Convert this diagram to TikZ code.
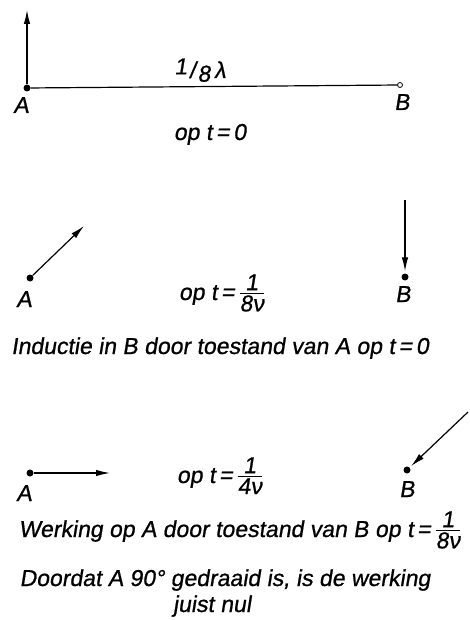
\documentclass[tikz,border=0pt]{standalone}
\usepackage{fontspec}
\usepackage{amsmath}
\usepackage{tikz}
\usetikzlibrary{arrows.meta}
\newfontfamily\lettering{Liberation Sans}[FakeSlant=0.16,FakeBold=0.8]
\newcommand{\frc}[2]{$\frac{\mbox{#1}}{\mbox{#2}}$}

\begin{document}
\begin{tikzpicture}[
  x=1pt, y=-1pt,
  font=\lettering\fontsize{23}{27}\selectfont,
  dot/.style={circle, fill, inner sep=0pt, minimum size=7pt},
  hole/.style={circle, draw, inner sep=0pt, minimum size=5pt, line width=0.8pt},
  vec/.style={-{Latex[length=14pt,width=6.5pt]}, line width=1.2pt},
  txt/.style={inner sep=0pt, anchor=base}
]
  \useasboundingbox (0,0) rectangle (470,620);
  % Stand op t=0
  \node[dot]  (a0) at (27,88) {};
  \node[hole] (b0) at (400,85) {};
  \coordinate (a0up) at (27,10);
  \draw[vec] (a0) -- (a0up);
  \draw[line width=1.2pt] (a0) -- (b0);
  \node[txt] (la0) at (21,113) {A};
  \node[txt] (lb0) at (402,110) {B};
  \node[txt] (dist) at (200,78) {\raisebox{0.3ex}{1}\kern2pt/\kern2pt\raisebox{-0.3ex}{8}\,λ};
  \node[txt] (t0) at (210,140) {op t\,=\,0};

  % Stand op t=1/8nu
  \node[dot] (a1) at (30,278) {};
  \node[dot] (b1) at (405,277) {};
  \coordinate (a1tip) at (84,226);
  \coordinate (b1top) at (405,200);
  \draw[vec] (a1) -- (a1tip);
  \draw[vec, shorten >=2pt] (b1top) -- (b1);
  \node[txt] (la1) at (24,307) {A};
  \node[txt] (lb1) at (403,302) {B};
  \node[txt] (t1) at (222,300) {op t\,=\,\frc{1}{8ν}};
  \node[txt] (cap1) at (220,354) {Inductie in B door toestand van A op t\,=\,0};

  % Stand op t=1/4nu
  \node[dot] (a2) at (30,473) {};
  \node[dot] (b2) at (407,470) {};
  \coordinate (a2tip) at (110,473);
  \coordinate (b2tail) at (468,412);
  \draw[vec] (a2) -- (a2tip);
  \draw[vec, shorten >=2pt] (b2tail) -- (b2);
  \node[txt] (la2) at (24,501) {A};
  \node[txt] (lb2) at (407,497) {B};
  \node[txt] (t2) at (220,483) {op t\,=\,\frc{1}{4ν}};
  \node[txt] (cap2) at (240,537) {Werking op A door toestand van B op t\,=\,\frc{1}{8ν}};
  \node[txt] (cap3) at (225,586) {Doordat A 90° gedraaid is, is de werking};
  \node[txt] (cap4) at (212,612) {juist nul};
\end{tikzpicture}
\end{document}
